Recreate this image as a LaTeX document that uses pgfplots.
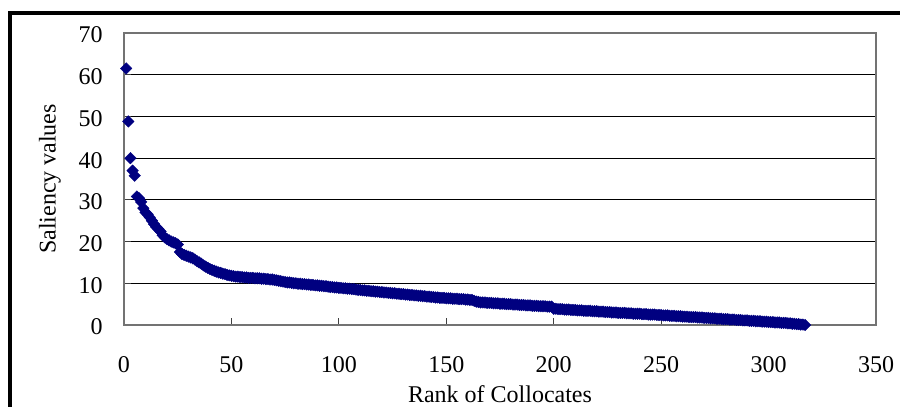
\documentclass[border=0pt]{standalone}
\usepackage{fontspec}
\setmainfont{Liberation Serif}
\usepackage{pgfplots}
\pgfplotsset{compat=1.18}
\definecolor{xlnavy}{RGB}{0,0,128}
\begin{document}
\begin{tikzpicture}
% frame of the picture: 900x407 px at 0.5pt per px, axis box at the origin
\path[use as bounding box] (-62pt,-41pt) rectangle (388pt,162.5pt);
\draw[line width=1.7pt] (-57pt,-45pt) -- (-57pt,156pt) -- (392pt,156pt);
\begin{axis}[
  scale only axis,
  width=376pt, height=146pt,
  xmin=0, xmax=350, ymin=0, ymax=70,
  xtick={0,50,...,350}, ytick={0,10,...,70},
  xtick pos=left, ytick pos=left,
  tick align=inside,
  major tick length=3.5pt,
  tick style={black!75, line width=0.5pt},
  ymajorgrids,
  major grid style={black, line width=0.5pt},
  axis line style={black!55, line width=1pt},
  /pgf/number format/assume math mode=true,
  tick label style={font=\fontsize{12}{14}\selectfont},
  label style={font=\fontsize{12}{14}\selectfont},
  xticklabel style={anchor=center, yshift=-20pt},
  yticklabel style={anchor=east, inner sep=0pt, xshift=-10.5pt, yshift=-1pt},
  xlabel={Rank of Collocates},
  ylabel={Saliency values},
  xlabel style={at={(axis description cs:0.5,-0.236)}, anchor=center},
  ylabel style={at={(axis description cs:-0.0984,0.5)}, anchor=center},
  clip=false,
]
\addplot[only marks, mark=square*, mark size=2.05pt,
  mark options={rotate=45, draw=xlnavy, line width=0.2pt, fill=xlnavy}] coordinates {
(1,61.5) (2,48.8) (3,40.0) (4,37.0) (5,35.8) (6,30.8) (7,30.4) (8,29.5) (9,28.0) (10,27.0)
(11,26.5) (12,25.8) (13,25.0) (14,24.2) (15,23.5) (16,23.0) (17,22.4) (18,21.5) (19,21.0) (20,20.6)
(21,20.3) (22,20.0) (23,19.8) (24,19.6) (25,19.3) (26,17.5) (27,17.0) (28,16.8) (29,16.6) (30,16.4)
(31,16.2) (32,16.0) (33,15.7) (34,15.3) (35,15.0) (36,14.7) (37,14.3) (38,14.0) (39,13.7) (40,13.4)
(41,13.2) (42,13.0) (43,12.8) (44,12.6) (45,12.5) (46,12.3) (47,12.2) (48,12.0) (49,11.9) (50,11.8)
(51,11.7) (52,11.6) (53,11.6) (54,11.5) (55,11.5) (56,11.4) (57,11.4) (58,11.3) (59,11.3) (60,11.3)
(61,11.2) (62,11.2) (63,11.2) (64,11.1) (65,11.1) (66,11.0) (67,11.0) (68,10.9) (69,10.9) (70,10.8)
(71,10.7) (72,10.6) (73,10.5) (74,10.4) (75,10.3) (76,10.2) (77,10.2) (78,10.1) (79,10.0) (80,10.0)
(81,9.9) (82,9.9) (83,9.8) (84,9.8) (85,9.7) (86,9.7) (87,9.6) (88,9.6) (89,9.5) (90,9.5)
(91,9.4) (92,9.4) (93,9.3) (94,9.3) (95,9.2) (96,9.1) (97,9.1) (98,9.0) (99,9.0) (100,8.9)
(101,8.9) (102,8.8) (103,8.8) (104,8.7) (105,8.7) (106,8.6) (107,8.6) (108,8.5) (109,8.4) (110,8.4)
(111,8.3) (112,8.3) (113,8.2) (114,8.2) (115,8.1) (116,8.1) (117,8.0) (118,8.0) (119,7.9) (120,7.9)
(121,7.8) (122,7.8) (123,7.7) (124,7.7) (125,7.6) (126,7.6) (127,7.5) (128,7.5) (129,7.4) (130,7.4)
(131,7.3) (132,7.3) (133,7.2) (134,7.2) (135,7.1) (136,7.1) (137,7.0) (138,7.0) (139,6.9) (140,6.9)
(141,6.8) (142,6.8) (143,6.7) (144,6.7) (145,6.6) (146,6.6) (147,6.5) (148,6.5) (149,6.5) (150,6.4)
(151,6.4) (152,6.4) (153,6.3) (154,6.3) (155,6.3) (156,6.2) (157,6.2) (158,6.2) (159,6.1) (160,6.1)
(161,6.0) (162,6.0) (163,5.8) (164,5.6) (165,5.5) (166,5.4) (167,5.4) (168,5.4) (169,5.3) (170,5.3)
(171,5.3) (172,5.2) (173,5.2) (174,5.2) (175,5.1) (176,5.1) (177,5.1) (178,5.0) (179,5.0) (180,5.0)
(181,4.9) (182,4.9) (183,4.9) (184,4.8) (185,4.8) (186,4.8) (187,4.7) (188,4.7) (189,4.7) (190,4.6)
(191,4.6) (192,4.6) (193,4.5) (194,4.5) (195,4.5) (196,4.5) (197,4.4) (198,4.4) (199,4.4) (200,3.9)
(201,3.9) (202,3.8) (203,3.8) (204,3.8) (205,3.7) (206,3.7) (207,3.7) (208,3.6) (209,3.6) (210,3.6)
(211,3.5) (212,3.5) (213,3.5) (214,3.4) (215,3.4) (216,3.4) (217,3.4) (218,3.3) (219,3.3) (220,3.3)
(221,3.2) (222,3.2) (223,3.2) (224,3.1) (225,3.1) (226,3.1) (227,3.0) (228,3.0) (229,3.0) (230,2.9)
(231,2.9) (232,2.9) (233,2.9) (234,2.8) (235,2.8) (236,2.8) (237,2.7) (238,2.7) (239,2.7) (240,2.7)
(241,2.6) (242,2.6) (243,2.6) (244,2.5) (245,2.5) (246,2.5) (247,2.5) (248,2.4) (249,2.4) (250,2.4)
(251,2.3) (252,2.3) (253,2.3) (254,2.2) (255,2.2) (256,2.2) (257,2.1) (258,2.1) (259,2.1) (260,2.0)
(261,2.0) (262,2.0) (263,1.9) (264,1.9) (265,1.9) (266,1.9) (267,1.8) (268,1.8) (269,1.8) (270,1.7)
(271,1.7) (272,1.7) (273,1.6) (274,1.6) (275,1.6) (276,1.5) (277,1.5) (278,1.5) (279,1.4) (280,1.4)
(281,1.4) (282,1.3) (283,1.3) (284,1.3) (285,1.2) (286,1.2) (287,1.2) (288,1.1) (289,1.1) (290,1.1)
(291,1.0) (292,1.0) (293,1.0) (294,0.9) (295,0.9) (296,0.9) (297,0.8) (298,0.8) (299,0.8) (300,0.7)
(301,0.7) (302,0.7) (303,0.6) (304,0.6) (305,0.6) (306,0.5) (307,0.5) (308,0.5) (309,0.4) (310,0.4)
(311,0.3) (312,0.3) (313,0.2) (314,0.2) (315,0.1) (316,0.1) (317,0.0)
};
\end{axis}
\end{tikzpicture}
\end{document}
